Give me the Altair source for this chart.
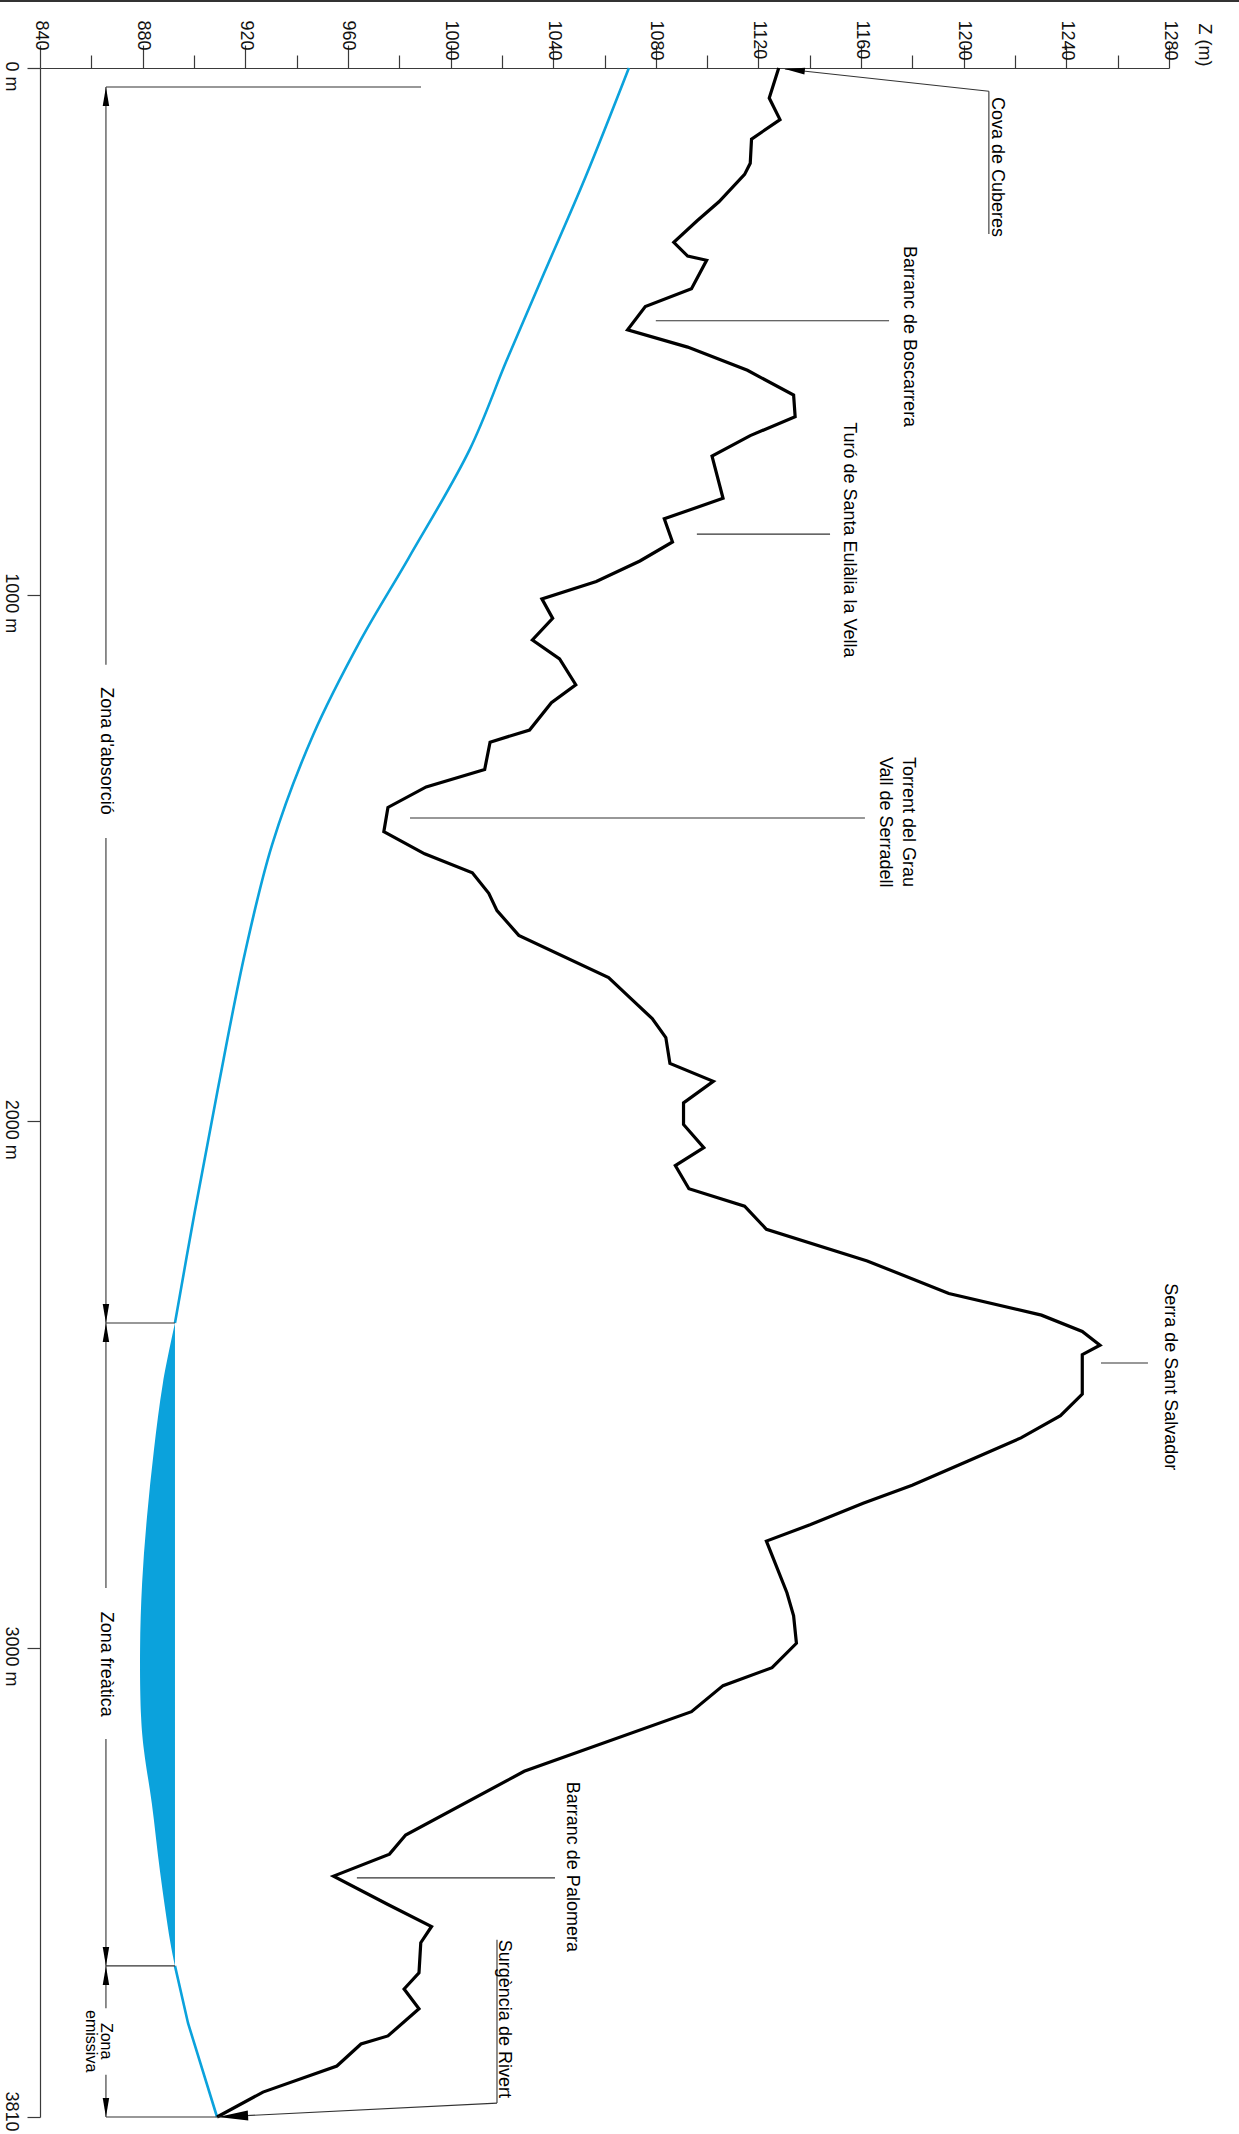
import altair as alt
import pandas as pd

# ---------------- data ----------------
# Topographic profile: distance along the section (m) and elevation Z (m)
profile_dist = [0, 57, 98, 135, 181, 202, 254, 290, 331, 357, 365, 419, 453, 497, 530, 574, 621, 662,
                698, 737, 817, 856, 900, 936, 975, 1008, 1045, 1086, 1122, 1171, 1205, 1257, 1280,
                1332, 1365, 1404, 1450, 1492, 1528, 1567, 1600, 1647, 1727, 1766, 1805, 1841, 1890,
                1924, 1965, 2006, 2050, 2084, 2128, 2161, 2205, 2265, 2327, 2368, 2399, 2425, 2443,
                2518, 2559, 2601, 2645, 2691, 2725, 2766, 2797, 2895, 2939, 2991, 3034, 3065, 3110,
                3213, 3323, 3356, 3394, 3443, 3481, 3509, 3561, 3589, 3623, 3670, 3684, 3722, 3767, 3810]
profile_z = [1127.9, 1124.2, 1128.4, 1117.3, 1116.8, 1114.6, 1104.6, 1096.1, 1087.0, 1092.4, 1099.8,
             1093.9, 1075.9, 1069.0, 1092.4, 1115.7, 1133.7, 1134.3, 1116.8, 1101.9, 1106.2, 1083.3,
             1086.5, 1073.8, 1056.8, 1035.6, 1039.8, 1031.9, 1042.5, 1048.8, 1039.3, 1030.8, 1015.4,
             1013.3, 990.5, 975.6, 974.0, 989.9, 1008.5, 1014.9, 1018.1, 1026.6, 1061.6, 1070.1,
             1078.6, 1083.9, 1085.5, 1102.4, 1090.8, 1090.8, 1098.7, 1087.6, 1092.9, 1114.6, 1123.1,
             1162.4, 1194.2, 1230.3, 1246.2, 1253.1, 1246.2, 1246.2, 1237.7, 1222.3, 1201.7, 1179.9,
             1160.8, 1140.1, 1123.1, 1131.1, 1133.7, 1134.8, 1125.3, 1106.2, 1093.9, 1028.7, 982.5,
             976.2, 954.4, 975.6, 992.6, 988.4, 987.7, 981.9, 987.7, 975.6, 965.1, 955.7, 926.9, 909.0]

# Water table (absorption zone)
water_dist = [0, 207, 388, 556, 724, 931, 1086, 1267, 1474, 1680, 1939, 2172, 2383]
water_z = [1069.5, 1052.6, 1036.6, 1021.8, 1007.5, 983.6, 965.0, 946.4, 930.5, 919.9, 909.3, 900.3, 892.6]

# Phreatic lens (left edge) – right edge is the level at the zone boundary
lens_dist = [2383, 2497, 2624, 2751, 2876, 3003, 3119, 3176, 3269, 3387, 3506, 3549]
lens_z = [892.6, 887.9, 884.4, 881.7, 879.8, 879.0, 879.4, 880.5, 883.6, 886.8, 890.7, 892.6]
lens_level = 892.6

# Emissive zone water line
emis_dist = [3549, 3648, 3810]
emis_z = [892.6, 897.7, 909.0]

# Zones (distance limits) and dimension line position
zone_top = 36
zone_limits = [2383, 3549, 3810]
dim_z = 865.7
zone_names = ["Zona d'absorció", "Zona freàtica"]
zone_name_d = [1297, 3028]
zone_gaps = [(1133, 1462), (2886, 3157), (3622, 3737)]
emis_label = "Zona\nemissiva"
emis_label_d = 3679
ext_end_z = [988.5, 892.6, 892.6, 909.0]

# Place-name annotations
start_text = ["Cova de Cuberes", "Torrent del Grau\nVall de Serradell", "Surgència de Rivert"]
start_z = [1211.0, 1176.3, 1018.9]
start_d = [55, 1308, 3504]

center_text = ["Barranc de Boscarrera", "Turó de Santa Eulàlia la Vella",
               "Serra de Sant Salvador", "Barranc de Palomera"]
center_z = [1176.7, 1153.3, 1278.4, 1045.4]
center_d = [510, 896, 2485, 3378]

# leader lines (z1, d1, z2, d2)
leader_z1 = [1130.3, 1209.8, 1080.0, 1096.0, 984.2, 1253.5, 963.5, 909.4, 1018.1]
leader_d1 = [2, 44, 480, 885, 1424, 2459, 3397, 3810, 3786]
leader_z2 = [1209.8, 1209.8, 1170.9, 1147.9, 1161.5, 1271.8, 1040.7, 1018.1, 1018.1]
leader_d2 = [44, 315, 480, 885, 1424, 2459, 3397, 3786, 3504]

# arrowheads: tip position and direction of the arrow body
arrow_z = [1130.3, 909.4]
arrow_d = [2, 3810]
arrow_angle = [6.2, 357.1]
arrow_len = [20, 30]

z_ticks = list(range(840, 1281, 20))
d_ticks = [0, 1000, 2000, 3000, 3810]

# ---------------- layout ----------------
W, H = 1129, 2049
FONT = "Liberation Sans"
BLUE = "#0ba2dc"
INK = "#3a3a3a"
ARROW = "M0,0 L2,-0.34 L2,0.34 Z"

xs = alt.Scale(domain=[840, 1280], nice=False, zero=False)
ys = alt.Scale(domain=[0, 3000, 3810], range=[0, 1580, H], nice=False, zero=False)

x_axis = alt.Axis(
    orient="top", values=z_ticks, format="d",
    labelExpr="datum.value % 40 == 0 ? datum.label : ''",
    tickSize={"condition": {"test": "datum.value % 40 == 0", "value": 23}, "value": 13},
    labelAngle=90, labelAlign="left", labelBaseline="middle", labelPadding=25,
    labelFont=FONT, labelFontSize=18, labelColor="#111", labelOverlap=False, labelFlush=False,
    domainColor=INK, tickColor=INK, domainWidth=1.2, tickWidth=1.2, grid=False,
    title="Z (m)", titleAngle=90, titleAlign="left", titleBaseline="alphabetic",
    titleX=1158, titleY=-45, titleFont=FONT, titleFontSize=18, titleFontWeight="normal",
    titleColor="#111",
)
y_axis = alt.Axis(
    orient="left", values=d_ticks, format="d",
    labelExpr="datum.value == 3810 ? '3810' : datum.label + ' m'",
    tickSize=13, labelAngle=90, labelAlign="center", labelBaseline="alphabetic",
    labelPadding=22,
    labelOffset={"condition": {"test": "datum.value == 3810", "value": -6}, "value": 8},
    labelFont=FONT, labelFontSize=18, labelColor="#111",
    labelOverlap=False, labelFlush=False, domainColor=INK, tickColor=INK,
    domainWidth=1.2, tickWidth=1.2, grid=False, title=None,
)


def X(f, **kw):
    return alt.X(f, scale=xs, axis=x_axis, **kw)


def Y(f, **kw):
    return alt.Y(f, scale=ys, axis=y_axis, **kw)


prof_df = pd.DataFrame({"d": profile_dist, "z": profile_z, "i": range(len(profile_dist))})
water_df = pd.DataFrame({"d": water_dist, "z": water_z, "i": range(len(water_dist))})
emis_df_line = pd.DataFrame({"d": emis_dist, "z": emis_z, "i": range(len(emis_dist))})
lens_df = pd.DataFrame({"d": lens_dist, "z": lens_z, "zr": [lens_level] * len(lens_dist)})

# rules: leaders + zone extension lines + dimension segments
rz1 = list(leader_z1)
rd1 = list(leader_d1)
rz2 = list(leader_z2)
rd2 = list(leader_d2)
for dd, ze in zip([zone_top] + zone_limits, ext_end_z):
    rz1.append(dim_z); rz2.append(ze); rd1.append(dd); rd2.append(dd)
bounds = [zone_top] + zone_limits
for k, (g0, g1) in enumerate(zone_gaps):
    rz1 += [dim_z, dim_z]; rz2 += [dim_z, dim_z]
    rd1 += [bounds[k], g1]; rd2 += [g0, bounds[k + 1]]
rules_df = pd.DataFrame({"z1": rz1, "d1": rd1, "z2": rz2, "d2": rd2})

# arrowheads incl. dimension arrows
az = list(arrow_z); ad = list(arrow_d); aa = list(arrow_angle); al = list(arrow_len)
for k in range(3):
    az += [dim_z, dim_z]; ad += [bounds[k], bounds[k + 1]]; aa += [90, 270]; al += [19, 19]
arrow_df = pd.DataFrame({"z": az, "d": ad, "ang": aa, "size": [v * v for v in al]})

start_df = pd.DataFrame({"z": start_z, "d": start_d, "t": start_text})
center_df = pd.DataFrame({"z": center_z, "d": center_d, "t": center_text})
zone_df = pd.DataFrame({"z": [dim_z] * 2, "d": zone_name_d, "t": zone_names})
emis_df = pd.DataFrame({"z": [dim_z], "d": [emis_label_d], "t": [emis_label]})

lens = alt.Chart(lens_df).mark_area(orient="horizontal", color=BLUE, opacity=1,
                                    interpolate="catmull-rom").encode(
    y=Y("d:Q"), x=X("z:Q"), x2="zr:Q")

water = alt.Chart(water_df).mark_line(color=BLUE, strokeWidth=2.6, interpolate="catmull-rom").encode(
    y=Y("d:Q"), x=X("z:Q"), order="i:Q")

emis = alt.Chart(emis_df_line).mark_line(color=BLUE, strokeWidth=2.6).encode(
    y=Y("d:Q"), x=X("z:Q"), order="i:Q")

profile = alt.Chart(prof_df).mark_line(color="#000", strokeWidth=3.2, strokeJoin="miter").encode(
    y=Y("d:Q"), x=X("z:Q"), order="i:Q")

rules = alt.Chart(rules_df).mark_rule(color="#333", strokeWidth=1.1).encode(
    x=X("z1:Q"), x2="z2:Q", y=Y("d1:Q"), y2="d2:Q")

arrows = alt.Chart(arrow_df).mark_point(shape=ARROW, filled=True, color="#000", opacity=1,
                                        strokeWidth=0).encode(
    x=X("z:Q"), y=Y("d:Q"), angle=alt.Angle("ang:Q", scale=None),
    size=alt.Size("size:Q", scale=None, legend=None))

txt_kw = dict(angle=90, font=FONT, fontSize=18, color="#000", lineBreak="\n", lineHeight=23)
t_start = alt.Chart(start_df).mark_text(align="left", baseline="alphabetic", **txt_kw).encode(
    x=X("z:Q"), y=Y("d:Q"), text="t:N")
t_center = alt.Chart(center_df).mark_text(align="center", baseline="alphabetic", **txt_kw).encode(
    x=X("z:Q"), y=Y("d:Q"), text="t:N")
t_zone = alt.Chart(zone_df).mark_text(align="center", baseline="middle", **txt_kw).encode(
    x=X("z:Q"), y=Y("d:Q"), text="t:N")
t_emis = alt.Chart(emis_df).mark_text(align="center", baseline="middle", angle=90, font=FONT,
                                      fontSize=16, color="#000", lineBreak="\n",
                                      lineHeight=15).encode(
    x=X("z:Q"), y=Y("d:Q"), text="t:N")

frame = alt.Chart(pd.DataFrame({"a": [0]})).mark_rule(color="#333", strokeWidth=2).encode(
    x=alt.value(-40), x2=alt.value(W + 70), y=alt.value(-67))

chart = alt.layer(lens, water, emis, profile, rules, arrows, t_start, t_center, t_zone, t_emis,
                  frame).properties(
    width=W, height=H,
    padding={"left": 40, "top": 68, "right": 70, "bottom": 17},
    autosize=alt.AutoSizeParams(type="none"),
    background="white",
).configure_view(stroke=None)

chart.save("out.html", embed_options={"renderer": "svg", "actions": False})
